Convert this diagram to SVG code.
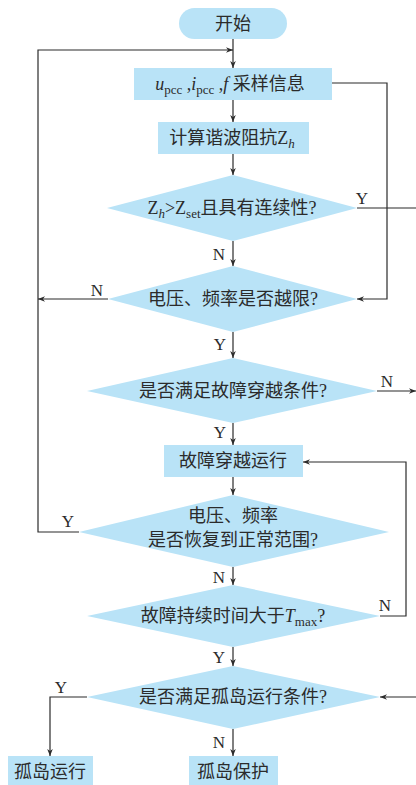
<svg xmlns="http://www.w3.org/2000/svg" width="416" height="785" viewBox="0 0 416 785">
<style>
.n{fill:#b9e3f7;stroke:none}
.t{font-family:"Liberation Serif","Noto Sans CJK SC",serif;font-size:18px;fill:#2b2b2b;text-anchor:middle}
.l{font-family:"Liberation Serif",serif;font-size:17px;fill:#2b2b2b;text-anchor:middle}
.c{fill:none;stroke:#2b2b2b;stroke-width:1.2}
.s{font-size:13px}
.i{font-style:italic}
</style>
<defs>
<marker id="a" viewBox="0 0 10 10" refX="10" refY="5" markerWidth="7" markerHeight="7" markerUnits="userSpaceOnUse" orient="auto">
<path d="M0,1 L10,5 L0,9 L3,5 z" fill="#2b2b2b"/>
</marker>
</defs>
<rect width="416" height="785" fill="#fff"/>
<g id="connectors">
<path class="c" d="M233,39 V68" marker-end="url(#a)"/>
<path class="c" d="M38,299 V50 H233" marker-end="url(#a)"/>
<path class="c" d="M233,100 V122" marker-end="url(#a)"/>
<path class="c" d="M233,154 V175" marker-end="url(#a)"/>
<path class="c" d="M332,83 H387 V299 H357" marker-end="url(#a)"/>
<path class="c" d="M357,208 H416"/>
<path class="c" d="M233,241 V266" marker-end="url(#a)"/>
<path class="c" d="M108,299 H38" marker-end="url(#a)"/>
<path class="c" d="M233,332 V358" marker-end="url(#a)"/>
<path class="c" d="M377,391 H416" marker-end="url(#a)"/>
<path class="c" d="M233,423 V445" marker-end="url(#a)"/>
<path class="c" d="M233,477 V495" marker-end="url(#a)"/>
<path class="c" d="M79,532 H38 V299"/>
<path class="c" d="M233,567 V585" marker-end="url(#a)"/>
<path class="c" d="M380,616 H406 V462 H303" marker-end="url(#a)"/>
<path class="c" d="M233,647 V666" marker-end="url(#a)"/>
<path class="c" d="M87,697 H50 V756" marker-end="url(#a)"/>
<path class="c" d="M416,697 H380" marker-end="url(#a)"/>
<path class="c" d="M233,729 V756" marker-end="url(#a)"/>
<text class="l" x="362" y="204">Y</text>
<text class="l" x="219" y="260">N</text>
<text class="l" x="97" y="296">N</text>
<text class="l" x="220" y="350">Y</text>
<text class="l" x="387" y="387">N</text>
<text class="l" x="220" y="438">Y</text>
<text class="l" x="68" y="527">Y</text>
<text class="l" x="219" y="583">N</text>
<text class="l" x="385" y="611">N</text>
<text class="l" x="219" y="663">Y</text>
<text class="l" x="61" y="693">Y</text>
<text class="l" x="219" y="748">N</text>
</g>
<g id="start">
<rect class="n" x="179" y="8" width="108" height="31" rx="15.5"/>
<text class="t" x="233" y="30">开始</text>
</g>
<g id="sample">
<rect class="n" x="134" y="68" width="198" height="32"/>
<text class="t" x="230" y="90"><tspan class="i">u</tspan><tspan class="s" dy="4">pcc</tspan><tspan dy="-4"> ,</tspan><tspan class="i">i</tspan><tspan class="s" dy="4">pcc</tspan><tspan dy="-4"> ,</tspan><tspan class="i">f</tspan> 采样信息</text>
</g>
<g id="calc">
<rect class="n" x="158" y="122" width="151" height="32"/>
<text class="t" x="232" y="144">计算谐波阻抗Z<tspan class="s i" dy="4">h</tspan></text>
</g>
<g id="d1">
<polygon class="n" points="107,208 233,175 357,208 233,241"/>
<text class="t" x="232" y="214">Z<tspan class="s i" dy="4">h</tspan><tspan dy="-4">&gt;Z</tspan><tspan class="s" dy="4">set</tspan><tspan dy="-4">且具有连续性?</tspan></text>
</g>
<g id="d2">
<polygon class="n" points="108,299 233,266 357,299 233,332"/>
<text class="t" x="233" y="305">电压、频率是否越限?</text>
</g>
<g id="d3">
<polygon class="n" points="87,391 233,358 377,391 233,423"/>
<text class="t" x="233" y="397">是否满足故障穿越条件?</text>
</g>
<g id="ride">
<rect class="n" x="164" y="445" width="139" height="32"/>
<text class="t" x="233" y="467">故障穿越运行</text>
</g>
<g id="d4">
<polygon class="n" points="79,532 233,495 389,532 233,567"/>
<text class="t" x="233" y="522">电压、频率</text>
<text class="t" x="233" y="546">是否恢复到正常范围?</text>
</g>
<g id="d5">
<polygon class="n" points="87,616 233,585 380,616 233,647"/>
<text class="t" x="233" y="622">故障持续时间大于<tspan class="i">T</tspan><tspan class="s" dy="4">max</tspan><tspan dy="-4">?</tspan></text>
</g>
<g id="d6">
<polygon class="n" points="87,697 233,666 380,697 233,729"/>
<text class="t" x="233" y="703">是否满足孤岛运行条件?</text>
</g>
<g id="island">
<rect class="n" x="8" y="756" width="85" height="29"/>
<text class="t" x="50" y="778">孤岛运行</text>
</g>
<g id="protect">
<rect class="n" x="189" y="756" width="89" height="29"/>
<text class="t" x="233" y="778">孤岛保护</text>
</g>
</svg>
